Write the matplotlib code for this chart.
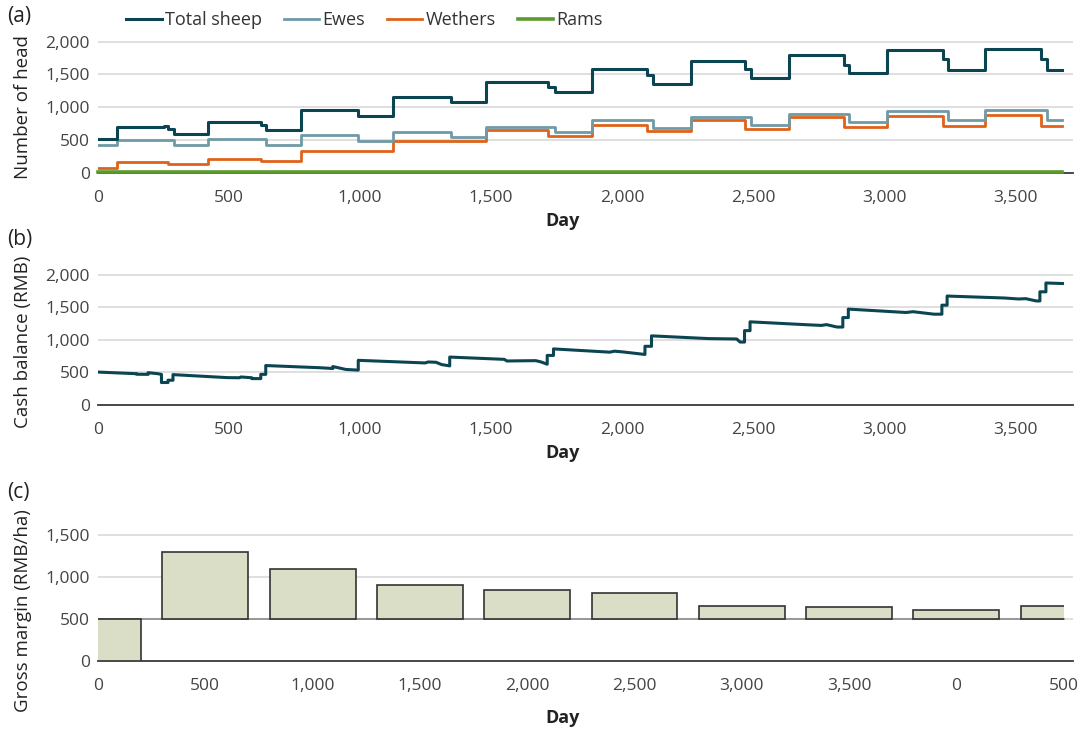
import numpy as np
import matplotlib
matplotlib.use("Agg")
import matplotlib.pyplot as plt
from matplotlib.patches import Rectangle
from matplotlib.ticker import FuncFormatter, MultipleLocator

plt.rcParams["font.family"] = ["Open Sans", "DejaVu Sans"]
plt.rcParams["font.size"] = 12.5

# (a) herd size, step changes: day of change and value from that day on
sheep_days = [0, 72, 250, 267, 290, 420, 623, 640, 776, 993, 1126, 1345, 1482,
              1718, 1742, 1886, 2095, 2116, 2262, 2470, 2492, 2636, 2845, 2867,
              3012, 3223, 3243, 3386, 3597, 3620, 3680]
sheep_vals = [510, 700, 715, 670, 595, 770, 725, 650, 960, 870, 1160, 1080, 1390,
              1305, 1225, 1580, 1495, 1360, 1710, 1575, 1440, 1790, 1650, 1520,
              1870, 1730, 1565, 1890, 1730, 1565, 1565]

ewe_days = [0, 72, 290, 420, 640, 776, 993, 1126, 1345, 1482, 1742, 1886, 2116,
            2262, 2492, 2636, 2867, 3012, 3243, 3386, 3620, 3680]
ewe_vals = [420, 500, 430, 510, 430, 580, 490, 620, 550, 700, 630, 800, 680,
            850, 730, 895, 780, 950, 810, 965, 810, 810]

wether_days = [0, 72, 267, 420, 623, 776, 1126, 1482, 1718, 1886, 2095, 2262,
               2470, 2636, 2845, 3012, 3223, 3386, 3597, 3680]
wether_vals = [70, 170, 130, 220, 180, 340, 490, 650, 560, 730, 640, 810,
               670, 845, 700, 870, 710, 880, 710, 710]

ram_days = [0, 250, 3680]
ram_vals = [8, 18, 18]

# (b) cash balance trace
cash_days = [0, 147, 147, 191, 191, 228, 242, 242, 267, 267, 286, 286, 493, 540,
             545, 587, 587, 621, 621, 640, 640, 845, 896, 896, 946, 993, 993,
             1248, 1260, 1290, 1311, 1342, 1342, 1550, 1560, 1670, 1691, 1714,
             1714, 1738, 1738, 1953, 1970, 2000, 2087, 2087, 2112, 2112, 2330,
             2437, 2450, 2467, 2467, 2488, 2488, 2706, 2760, 2780, 2820, 2842,
             2842, 2863, 2863, 3083, 3110, 3190, 3220, 3220, 3240, 3240, 3459,
             3513, 3540, 3580, 3594, 3594, 3617, 3617, 3680]
cash_vals = [505, 480, 472, 470, 496, 480, 470, 345, 345, 380, 380, 466, 420, 418,
             430, 418, 405, 405, 470, 470, 605, 572, 560, 590, 545, 535, 685,
             645, 660, 655, 620, 600, 735, 700, 675, 680, 660, 625, 760, 760,
             860, 810, 825, 815, 775, 900, 900, 1060, 1018, 1012, 965, 965, 1140,
             1140, 1275, 1230, 1220, 1232, 1195, 1195, 1340, 1340, 1470, 1418,
             1430, 1392, 1392, 1530, 1530, 1670, 1640, 1625, 1630, 1595, 1595,
             1735, 1735, 1870, 1862]

# (c) gross margin per period
gm_labels = ["0", "500", "1,000", "1,500", "2,000", "2,500", "3,000", "3,500", "0", "500"]
gm_vals = [0, 1300, 1100, 900, 840, 810, 650, 640, 605, 655]
gm_base = 500

c_total = "#0b4552"
c_ewe = "#6f9ba6"
c_wether = "#e0621a"
c_ram = "#5b9b2b"
c_bar = "#dadec6"
tick_col = "#444444"
grid_col = "#d9d9d9"

fmt = FuncFormatter(lambda v, p: f"{v:,.0f}")

fig = plt.figure(figsize=(10.82, 7.29), dpi=100)
left, width = 0.0906, 0.901
ax1 = fig.add_axes([left, 0.7627, width, 0.1893])
ax2 = fig.add_axes([left, 0.4444, width, 0.188])
ax3 = fig.add_axes([left, 0.0933, width, 0.2016])


def style(ax, ylabel, ly, dy):
    for s in ["top", "right", "left"]:
        ax.spines[s].set_visible(False)
    ax.spines["bottom"].set_color("#3a3a3a")
    ax.spines["bottom"].set_linewidth(1.3)
    ax.yaxis.grid(True, color=grid_col, linewidth=1.2)
    ax.set_axisbelow(True)
    ax.tick_params(axis="y", length=0, labelcolor=tick_col, labelsize=12.5, pad=6)
    ax.tick_params(axis="x", length=0, labelcolor=tick_col, labelsize=12.5, pad=12)
    ax.yaxis.set_major_formatter(fmt)
    ax.set_ylabel(ylabel, fontsize=13.5, color="#222222")
    ax.yaxis.set_label_coords(-0.0675, ly)
    ax.set_xlabel("Day", fontsize=13, fontweight="bold", color="#222222")
    ax.xaxis.set_label_coords(0.476, dy)


# (a)
ax1.plot(wether_days, wether_vals, drawstyle="steps-post", color=c_wether, lw=2.0, label="Wethers", zorder=3)
ax1.plot(ewe_days, ewe_vals, drawstyle="steps-post", color=c_ewe, lw=2.0, label="Ewes", zorder=3)
ax1.plot(sheep_days, sheep_vals, drawstyle="steps-post", color=c_total, lw=2.2, label="Total sheep", zorder=4)
ax1.plot(ram_days, ram_vals, drawstyle="steps-post", color=c_ram, lw=2.6, label="Rams", zorder=6,
         clip_on=False)
ax1.set_xlim(0, 3720)
ax1.set_ylim(0, 2100)
ax1.yaxis.set_major_locator(MultipleLocator(500))
ax1.xaxis.set_major_locator(MultipleLocator(500))
ax1.xaxis.set_major_formatter(fmt)
style(ax1, "Number of head", 0.478, -0.283)
h, l = ax1.get_legend_handles_labels()
order = [2, 1, 0, 3]
fig.legend([h[i] for i in order], [l[i] for i in order], loc="center",
           bbox_to_anchor=(0.337, 0.9726), ncol=4, frameon=False, fontsize=13,
           handlelength=1.95, columnspacing=1.2, handletextpad=0.2,
           labelcolor="#333333")

# (b)
ax2.plot(cash_days, cash_vals, color=c_total, lw=2.2, zorder=3)
ax2.set_xlim(0, 3720)
ax2.set_ylim(0, 2100)
ax2.yaxis.set_major_locator(MultipleLocator(500))
ax2.xaxis.set_major_locator(MultipleLocator(500))
ax2.xaxis.set_major_formatter(fmt)
style(ax2, "Cash balance (RMB)", 0.46, -0.285)

# (c)
x = np.arange(len(gm_vals))
heights = [v - gm_base for v in gm_vals]
bars = ax3.bar(x, heights, bottom=gm_base, width=0.8, color=c_bar, edgecolor="#333333",
               linewidth=1.2, zorder=3)
# plot area ends at the last category centre, so the last bar is cut in half
plot_area = Rectangle((0, 0), x[-1], 1750, transform=ax3.transData)
for b in bars:
    b.set_clip_path(plot_area)
ax3.plot([0, x[-1]], [gm_base, gm_base], color="#8c8c8c", lw=1.2, zorder=2)
ax3.set_xlim(0, 9.086)
ax3.set_ylim(0, 1750)
ax3.yaxis.set_major_locator(MultipleLocator(500))
ax3.set_xticks(x)
ax3.set_xticklabels(gm_labels)
style(ax3, "Gross margin (RMB/ha)", 0.34, -0.327)

for y, lab in [(0.9767, "(a)"), (0.6708, "(b)"), (0.3251, "(c)")]:
    fig.text(0.007, y, lab, fontsize=15, color="#222222", va="center")

fig.savefig("out.png", dpi=100)
